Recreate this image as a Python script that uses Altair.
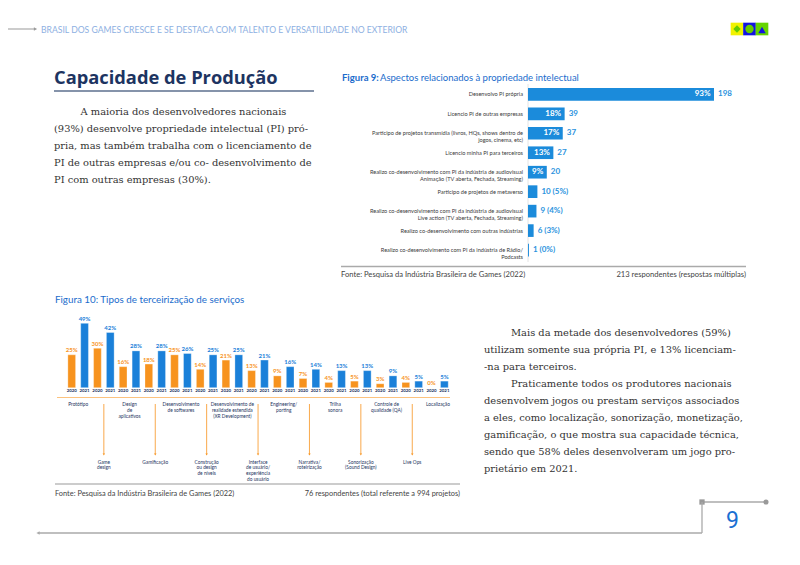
import altair as alt
import pandas as pd

# ------------------------------------------------------------------ data
fig9_categories = [
    "Desenvolvo PI própria",
    "Licencio PI de outras empresas",
    "Participo de projetos transmídia (livros, HQs, shows dentro de jogos, cinema, etc)",
    "Licencio minha PI para terceiros",
    "Realizo co-desenvolvimento com PI da indústria de audiovisual Animação (TV aberta, Fechada, Streaming)",
    "Participo de projetos de metaverso",
    "Realizo co-desenvolvimento com PI da indústria de audiovisual Live action (TV aberta, Fechada, Streaming)",
    "Realizo co-desenvolvimento com outras indústrias",
    "Realizo co-desenvolvimento com PI da indústria de Rádio/ Podcasts",
]
fig9_labels = [
    "Desenvolvo PI própria",
    "Licencio PI de outras empresas",
    "Participo de projetos transmídia (livros, HQs, shows dentro de\njogos, cinema, etc)",
    "Licencio minha PI para terceiros",
    "Realizo co-desenvolvimento com PI da indústria de audiovisual\nAnimação (TV aberta, Fechada, Streaming)",
    "Participo de projetos de metaverso",
    "Realizo co-desenvolvimento com PI da indústria de audiovisual\nLive action (TV aberta, Fechada, Streaming)",
    "Realizo co-desenvolvimento com outras indústrias",
    "Realizo co-desenvolvimento com PI da indústria de Rádio/\nPodcasts",
]
fig9_counts = [198, 39, 37, 27, 20, 10, 9, 6, 1]
fig9_percents = [93, 18, 17, 13, 9, 5, 4, 3, 0]

fig10_services = [
    "Protótipo", "Game design", "Design de aplicativos", "Gamificação",
    "Desenvolvimento de softwares", "Construção ou design de níveis",
    "Desenvolvimento de realidade estendida (XR Development)",
    "Interface de usuário/experiência do usuário", "Engineering/porting",
    "Narrativa/roteirização", "Trilha sonora", "Sonorização (Sound Design)",
    "Controle de qualidade (QA)", "Live Ops", "Localização",
]
fig10_labels = [
    "Protótipo", "Game\ndesign", "Design\nde\naplicativos", "Gamificação",
    "Desenvolvimento\nde softwares", "Construção\nou design\nde níveis",
    "Desenvolvimento de\nrealidade estendida\n(XR Development)",
    "Interface\nde usuário/\nexperiência\ndo usuário", "Engineering/\nporting",
    "Narrativa/\nroteirização", "Trilha\nsonora", "Sonorização\n(Sound Design)",
    "Controle de\nqualidade (QA)", "Live Ops", "Localização",
]
fig10_2020 = [25, 30, 16, 18, 25, 14, 21, 13, 9, 7, 4, 5, 3, 4, 0]
fig10_2021 = [49, 42, 28, 28, 26, 25, 25, 21, 16, 14, 13, 13, 9, 5, 5]
fig10_years = ["2020", "2021"]

left_par = [
    "A maioria dos desenvolvedores nacionais",
    "(93%) desenvolve propriedade intelectual (PI) pró-",
    "pria, mas também trabalha com o licenciamento de",
    "PI de outras empresas e/ou co- desenvolvimento de",
    "PI com outras empresas (30%).",
]
right_par = [
    "Mais da metade dos desenvolvedores (59%)",
    "utilizam somente sua própria PI, e 13% licenciam-",
    "-na para terceiros.",
    "Praticamente todos os produtores nacionais",
    "desenvolvem jogos ou prestam serviços associados",
    "a eles, como localização, sonorização, monetização,",
    "gamificação, o que mostra sua capacidade técnica,",
    "sendo que 58% deles desenvolveram um jogo pro-",
    "prietário em 2021.",
]
right_indent = [True, False, False, True, False, False, False, False, False]

# ------------------------------------------------------------------ style
W, H = 784, 549
def px(x):
    return x - 8
def py(y):
    return y - 8

BLUE9 = "#1b8bdb"
BLUE9T = "#2b93de"
ORANGE = "#f7931e"
BLUE10 = "#1a80d9"
NAVY = "#1d3461"
FIGBLUE = "#1a6ccc"
GREY = "#9a9a9a"
TXT = "#333333"
FONT = "Lato"
SERIF = "DejaVu Serif"

one = pd.DataFrame({"k": [0]})
layers = []

def text(s, x, y, size, color, weight="normal", align="left", baseline="middle", font=FONT):
    return alt.Chart(one).mark_text(
        fontSize=size, color=color, fontWeight=weight, align=align,
        baseline=baseline, font=font, lineBreak="\n"
    ).encode(x=alt.value(px(x)), y=alt.value(py(y)), text=alt.value(s))

def hrule(x1, x2, y, color, w=1.0):
    return alt.Chart(one).mark_rule(color=color, strokeWidth=w).encode(
        x=alt.value(px(x1)), x2=alt.value(px(x2)), y=alt.value(py(y)))

def vrule(x, y1, y2, color, w=1.0):
    return alt.Chart(one).mark_rule(color=color, strokeWidth=w).encode(
        x=alt.value(px(x)), y=alt.value(py(y1)), y2=alt.value(py(y2)))

def point(x, y, shape, size, color):
    return alt.Chart(one).mark_point(shape=shape, size=size, color=color, filled=True, opacity=1).encode(
        x=alt.value(px(x)), y=alt.value(py(y)))

# ------------------------------------------------------------------ header
layers += [
    hrule(0, 34, 29, GREY, 1.2),
    point(35.5, 29, "triangle-right", 14, GREY),
    text("BRASIL DOS GAMES CRESCE E SE DESTACA COM TALENTO E VERSATILIDADE NO EXTERIOR",
         41, 29.5, 8.6, "#8db0e2"),
    point(737, 29, "square", 160, "#f2f200"),
    point(737, 29, "diamond", 55, "#66cc00"),
    point(749.5, 29, "square", 160, "#1414e0"),
    point(749.5, 29, "circle", 70, "#66cc00"),
    point(762, 29, "square", 160, "#66d400"),
    point(762, 30, "triangle-up", 55, "#1414e0"),
]

# ------------------------------------------------------------------ left title + text
layers += [
    text("Capacidade de Produção", 54, 78.5, 18.3, NAVY, weight="bold", font="Open Sans"),
    hrule(54, 314, 91, "#5d6f8e", 1.4),
]
for i, line in enumerate(left_par):
    layers.append(text(line, 80.5 if i == 0 else 54, 112 + 16.9 * i, 9.9, TXT, font=SERIF))

for i, line in enumerate(right_par):
    layers.append(text(line, 511 if right_indent[i] else 484, 333 + 17 * i, 9.9, TXT, font=SERIF))

# ------------------------------------------------------------------ figure 9
layers += [
    text("Figura 9:", 342, 77.5, 9.5, FIGBLUE, weight="bold"),
    text("Aspectos relacionados à propriedade intelectual", 380, 77.5, 9.5, FIGBLUE),
]
df9 = pd.DataFrame({"cat": fig9_categories, "label": fig9_labels,
                    "count": fig9_counts, "pct": fig9_percents})
y9 = alt.Y("cat:N", axis=None,
           scale=alt.Scale(domain=fig9_categories, range=[py(84.6), py(259.8)],
                           paddingInner=0.35, paddingOuter=0.175))
x9 = alt.X("count:Q", axis=None,
           scale=alt.Scale(domain=[0, 198], range=[px(528), px(714)], nice=False, zero=True))
base9 = alt.Chart(df9)
layers += [
    vrule(528, 84, 262, "#dddddd", 0.8),
    base9.mark_bar(color=BLUE9).encode(x=x9, y=y9),
    base9.transform_filter("datum.count >= 20")
         .transform_calculate(t="datum.pct + '%'")
         .mark_text(align="right", dx=-3.5, color="white", fontWeight="bold", fontSize=8, font=FONT)
         .encode(x=x9, y=y9, text="t:N"),
    base9.transform_calculate(
            t="datum.count >= 20 ? '' + datum.count : datum.count + ' (' + datum.pct + '%)'")
         .mark_text(align="left", dx=4, color=BLUE9T, fontWeight="bold", fontSize=8, font=FONT)
         .encode(x=x9, y=y9, text="t:N"),
    base9.mark_text(align="right", lineBreak="\n", fontSize=5.6, color="#3a3a3a", font=FONT,
                    lineHeight=6.5)
         .encode(x=alt.value(px(523)), y=y9, text="label:N"),
    hrule(341, 746, 266.5, "#aaaaaa", 1.4),
    text("Fonte: Pesquisa da Indústria Brasileira de Games (2022)", 341, 275, 7.6, "#444444"),
    text("213 respondentes (respostas múltiplas)", 746, 275, 7.6, "#444444", align="right"),
]

# ------------------------------------------------------------------ figure 10
layers += [
    text("Figura 10: Tipos de terceirização de serviços", 55, 299.5, 9.8, FIGBLUE),
]
rows = []
keys = []
for s, a, b in zip(fig10_services, fig10_2020, fig10_2021):
    for yr, v in zip(fig10_years, (a, b)):
        k = s + " · " + yr
        keys.append(k)
        rows.append({"key": k, "service": s, "year": yr, "value": v})
df10 = pd.DataFrame(rows)
df10lab = pd.DataFrame({"service": fig10_services, "label": fig10_labels,
                        "pos": ["top" if i % 2 == 0 else "bottom" for i in range(len(fig10_services))]})

xk = alt.X("key:N", axis=None,
           scale=alt.Scale(domain=keys, range=[px(65.3), px(450.8)],
                           paddingInner=0.4, paddingOuter=0.2))
xs = alt.X("service:N", axis=None,
           scale=alt.Scale(domain=fig10_services, range=[px(65.3), px(450.8)],
                           paddingInner=0, paddingOuter=0))
y10 = alt.Y("value:Q", axis=None,
            scale=alt.Scale(domain=[0, 49], range=[py(387.7), py(323.3)], nice=False, zero=True))
col10 = alt.Color("year:N", legend=None,
                  scale=alt.Scale(domain=fig10_years, range=[ORANGE, BLUE10]))
base10 = alt.Chart(df10)
lab10 = alt.Chart(df10lab)
layers += [
    base10.mark_bar(stroke="white", strokeOpacity=0.5, strokeWidth=0.6).encode(x=xk, y=y10, color=col10),
    base10.transform_calculate(t="datum.value + '%'")
          .mark_text(baseline="bottom", dy=-1.5, fontSize=6, fontWeight="bold", font=FONT)
          .encode(x=xk, y=y10, color=col10, text="t:N"),
    base10.mark_text(baseline="top", fontSize=4.4, color=NAVY, font=FONT, fontWeight="bold")
          .encode(x=xk, y=alt.value(py(389)), text="year:N"),
    hrule(57, 450, 397.5, "#fcc27e", 1.2),
    lab10.transform_filter("datum.pos == 'top'")
         .mark_text(baseline="top", lineBreak="\n", fontSize=4.8, color=NAVY, font=FONT,
                    lineHeight=5.8)
         .encode(x=xs, y=alt.value(py(402)), text="label:N"),
    lab10.transform_filter("datum.pos == 'bottom'")
         .mark_text(baseline="top", lineBreak="\n", fontSize=4.8, color=NAVY, font=FONT,
                    lineHeight=5.8)
         .encode(x=xs, y=alt.value(py(459.5)), text="label:N"),
    lab10.transform_filter("datum.pos == 'bottom'")
         .mark_rule(color=ORANGE, strokeWidth=0.8)
         .encode(x=xs, y=alt.value(py(404)), y2=alt.value(py(454))),
    lab10.transform_filter("datum.pos == 'bottom'")
         .mark_point(shape="triangle-down", size=6, color=ORANGE, filled=True, opacity=1)
         .encode(x=xs, y=alt.value(py(454.5))),
    hrule(55, 460, 484, "#bbbbbb", 1.6),
    text("Fonte: Pesquisa da Indústria Brasileira de Games (2022)", 55, 493.5, 7.4, "#444444"),
    text("76 respondentes (total referente a 994 projetos)", 460, 493.5, 7.4, "#444444", align="right"),
]

# ------------------------------------------------------------------ footer
layers += [
    hrule(702, 766, 502, "#aaaaaa", 1.3),
    point(702, 502, "square", 28, "#999999"),
    point(766, 502, "circle", 26, "#999999"),
    vrule(702, 502, 533, "#aaaaaa", 1.3),
    hrule(39, 702, 533, "#aaaaaa", 1.3),
    point(38, 533, "triangle-left", 14, "#aaaaaa"),
    text("9", 732.5, 521, 23, "#1a6fd2", align="center", font="Roboto"),
]

chart = alt.layer(*layers).resolve_scale(
    x="independent", y="independent", color="independent"
).properties(
    width=W, height=H, padding=0, autosize=alt.AutoSizeParams(type="none"),
    background="white"
).configure_view(stroke=None)

chart.save("out.html", embed_options={"renderer": "svg", "actions": False})
